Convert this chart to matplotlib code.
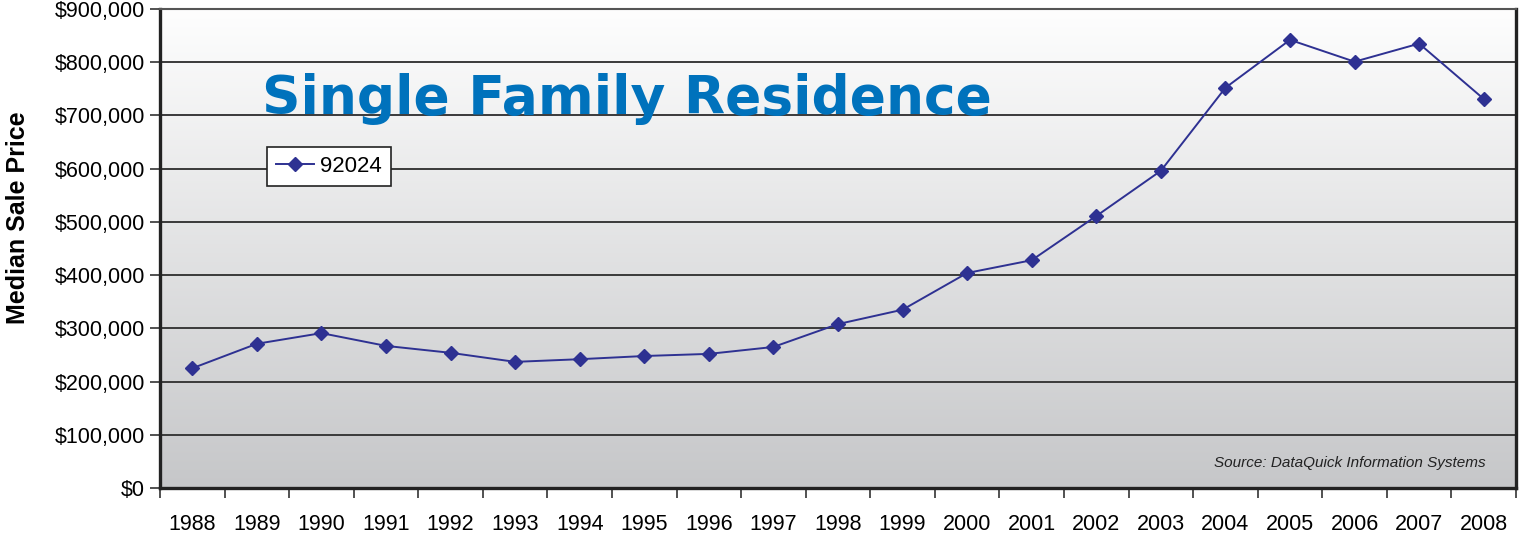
import numpy as np
import matplotlib
matplotlib.use("Agg")
import matplotlib.pyplot as plt
from matplotlib.ticker import FuncFormatter, FixedLocator

years = [str(y) for y in range(1988, 2009)]
prices = [225000, 271000, 291000, 267000, 254000, 237000, 242000, 248000, 252000, 265000,
          308000, 335000, 404000, 428000, 511000, 596000, 752000, 842000, 801000, 835000, 731000]

plt.rcParams['font.family'] = ['Liberation Sans', 'DejaVu Sans']

fig = plt.figure(figsize=(15.24, 5.38), dpi=100)
ax = fig.add_axes([160/1524, 1 - 488/538, (1516-160)/1524, (488-9)/538])

x = np.arange(len(years))

# fondo degradado
grad = np.linspace(0, 1, 256).reshape(-1, 1)
cmap = matplotlib.colors.LinearSegmentedColormap.from_list("bg", ["#fefefe", "#c6c7c9"])
ax.imshow(grad, aspect='auto', cmap=cmap, extent=[0, 1, 0, 1], transform=ax.transAxes, zorder=0)

ax.set_xlim(-0.5, len(years) - 0.5)
ax.set_ylim(0, 900000)
ax.set_yticks(np.arange(0, 900001, 100000))
ax.yaxis.set_major_formatter(FuncFormatter(lambda v, p: "${:,.0f}".format(v)))
ax.grid(axis='y', color='#3a3a3a', linewidth=1.4, zorder=1)

ax.plot(x, prices, color='#2e3192', linewidth=1.4, marker='D', markersize=7, label='92024', zorder=3)

# ticks entre categorias
ax.xaxis.set_major_locator(FixedLocator(np.arange(-0.5, len(years), 1)))
ax.xaxis.set_minor_locator(FixedLocator(x))
ax.set_xticklabels([])
ax.set_xticklabels(years, minor=True)
ax.tick_params(axis='x', which='major', length=7, width=1.2, direction='out', color='#333333')
ax.tick_params(axis='x', which='minor', length=0, pad=19, labelsize=15.5)
ax.tick_params(axis='y', length=7, width=1.2, direction='out', color='#333333', labelsize=15.5, pad=4)

for s in ['left', 'bottom', 'right']:
    ax.spines[s].set_linewidth(2.4)
    ax.spines[s].set_color('#222222')
ax.spines['top'].set_linewidth(1.5)
ax.spines['top'].set_color('#555555')

fig.text(18/1524, 1 - 218/538, 'Median Sale Price', fontsize=18, fontweight='bold',
         rotation=90, ha='center', va='center')

fig.text(262/1524, 1 - 99/538, 'Single Family Residence', fontsize=38.5, fontweight='bold',
         color='#0072bc', family=['DejaVu Sans'], va='center', ha='left')

leg = ax.legend(loc='upper left', bbox_to_anchor=((267-160)/1356, 1 - (147-9)/479),
                fontsize=16, frameon=True, fancybox=False, borderpad=0.4, handlelength=1.7,
                handletextpad=0.3, borderaxespad=0)
leg.get_frame().set_edgecolor('#222222')
leg.get_frame().set_linewidth(1.2)
leg.get_frame().set_facecolor('white')
leg.get_frame().set_alpha(1)

ax.text(1486/1524, 1 - 463/538, 'Source: DataQuick Information Systems', transform=fig.transFigure,
        fontsize=11, style='italic', color='#222222', ha='right', va='center')

fig.savefig('out.png', dpi=100)
